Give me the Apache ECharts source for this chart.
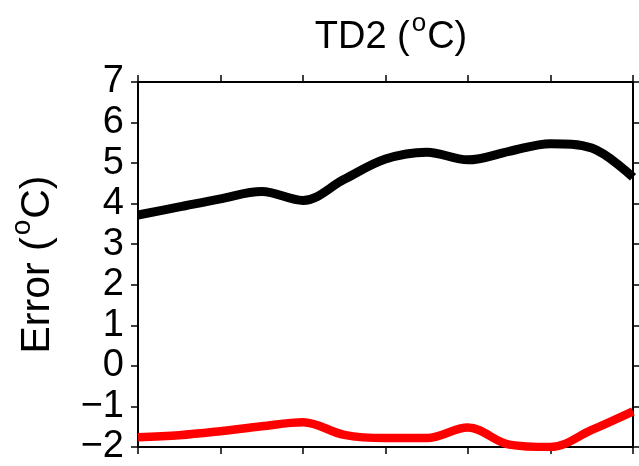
<!DOCTYPE html>
<html><head><meta charset="utf-8">
<script src="https://cdn.jsdelivr.net/npm/echarts@6/dist/echarts.min.js"></script>
<style>html,body{margin:0;padding:0;background:#fff}#c{width:639px;height:466px}</style>
</head><body><div id="c"></div>
<script>
var steps = [0,1,2,3,4,5,6,7,8,9,10,11,12];
var blackSeries = [3.72,3.92,4.12,4.3,4.08,4.6,5.1,5.27,5.08,5.29,5.48,5.37,4.65];
var redSeries = [-1.76,-1.71,-1.61,-1.49,-1.39,-1.7,-1.78,-1.78,-1.52,-1.94,-2.0,-1.58,-1.12];
var yTicks = [-2,-1,0,1,2,3,4,5,6,7];

var FONT = '"Liberation Sans", Arial, Helvetica, sans-serif';
function pairs(v){ return steps.map(function(s,i){ return [s, v[i]]; }); }
var axisLine = {show:true, onZero:false, lineStyle:{color:'#000', width:2}};
var tick = {show:true, inside:false, length:7, lineStyle:{color:'#000', width:1.5}};

var chart = echarts.init(document.getElementById('c'), null, {renderer:'canvas'});
chart.setOption({
  animation:false,
  backgroundColor:'#fff',
  title:{
    text:'{m|TD2 (}{s|o}{m|C)}',
    left:386, top:6, textAlign:'center',
    textStyle:{fontFamily:FONT, fontSize:38, fontWeight:'normal', color:'#000',
      rich:{
        m:{fontFamily:FONT, fontSize:38, color:'#000', lineHeight:46, verticalAlign:'bottom'},
        s:{fontFamily:FONT, fontSize:26, color:'#000', lineHeight:30, verticalAlign:'top', padding:[0,1,0,2]}}}
  },
  grid:{left:136, right:6, top:82, bottom:17, show:false},
  xAxis:[
    {type:'value', min:steps[0], max:steps[steps.length-1], interval:2, position:'bottom',
     axisLine:axisLine, axisTick:tick, axisLabel:{show:false}, splitLine:{show:false}},
    {type:'value', min:steps[0], max:steps[steps.length-1], interval:2, position:'top',
     axisLine:axisLine, axisTick:tick, axisLabel:{show:false}, splitLine:{show:false}}
  ],
  yAxis:[
    {type:'value', min:yTicks[0], max:yTicks[yTicks.length-1], interval:1, position:'left',
     axisLine:axisLine, axisTick:tick, splitLine:{show:false},
     axisLabel:{show:true, margin:14, fontFamily:FONT, fontSize:38, color:'#000',
       formatter:function(v){ return String(v).replace('-', '\u2212'); }},
     name:'{m|Error (}{s|o}{m|C)}', nameLocation:'middle', nameGap:80, nameRotate:90,
     nameTextStyle:{fontFamily:FONT, fontSize:41, color:'#000',
       rich:{
         m:{fontFamily:FONT, fontSize:41, color:'#000', lineHeight:50, verticalAlign:'bottom'},
         s:{fontFamily:FONT, fontSize:28, color:'#000', lineHeight:32, verticalAlign:'top', padding:[0,1,0,2]}}}},
    {type:'value', min:yTicks[0], max:yTicks[yTicks.length-1], interval:1, position:'right',
     axisLine:axisLine, axisTick:tick, axisLabel:{show:false}, splitLine:{show:false}}
  ],
  series:[
    {type:'line', data:pairs(blackSeries), smooth:0.35, symbol:'none',
     lineStyle:{color:'#000', width:9}, clip:true},
    {type:'line', data:pairs(redSeries), smooth:0.35, symbol:'none',
     lineStyle:{color:'#ff0000', width:8.5}, clip:true}
  ]
});
</script></body></html>
